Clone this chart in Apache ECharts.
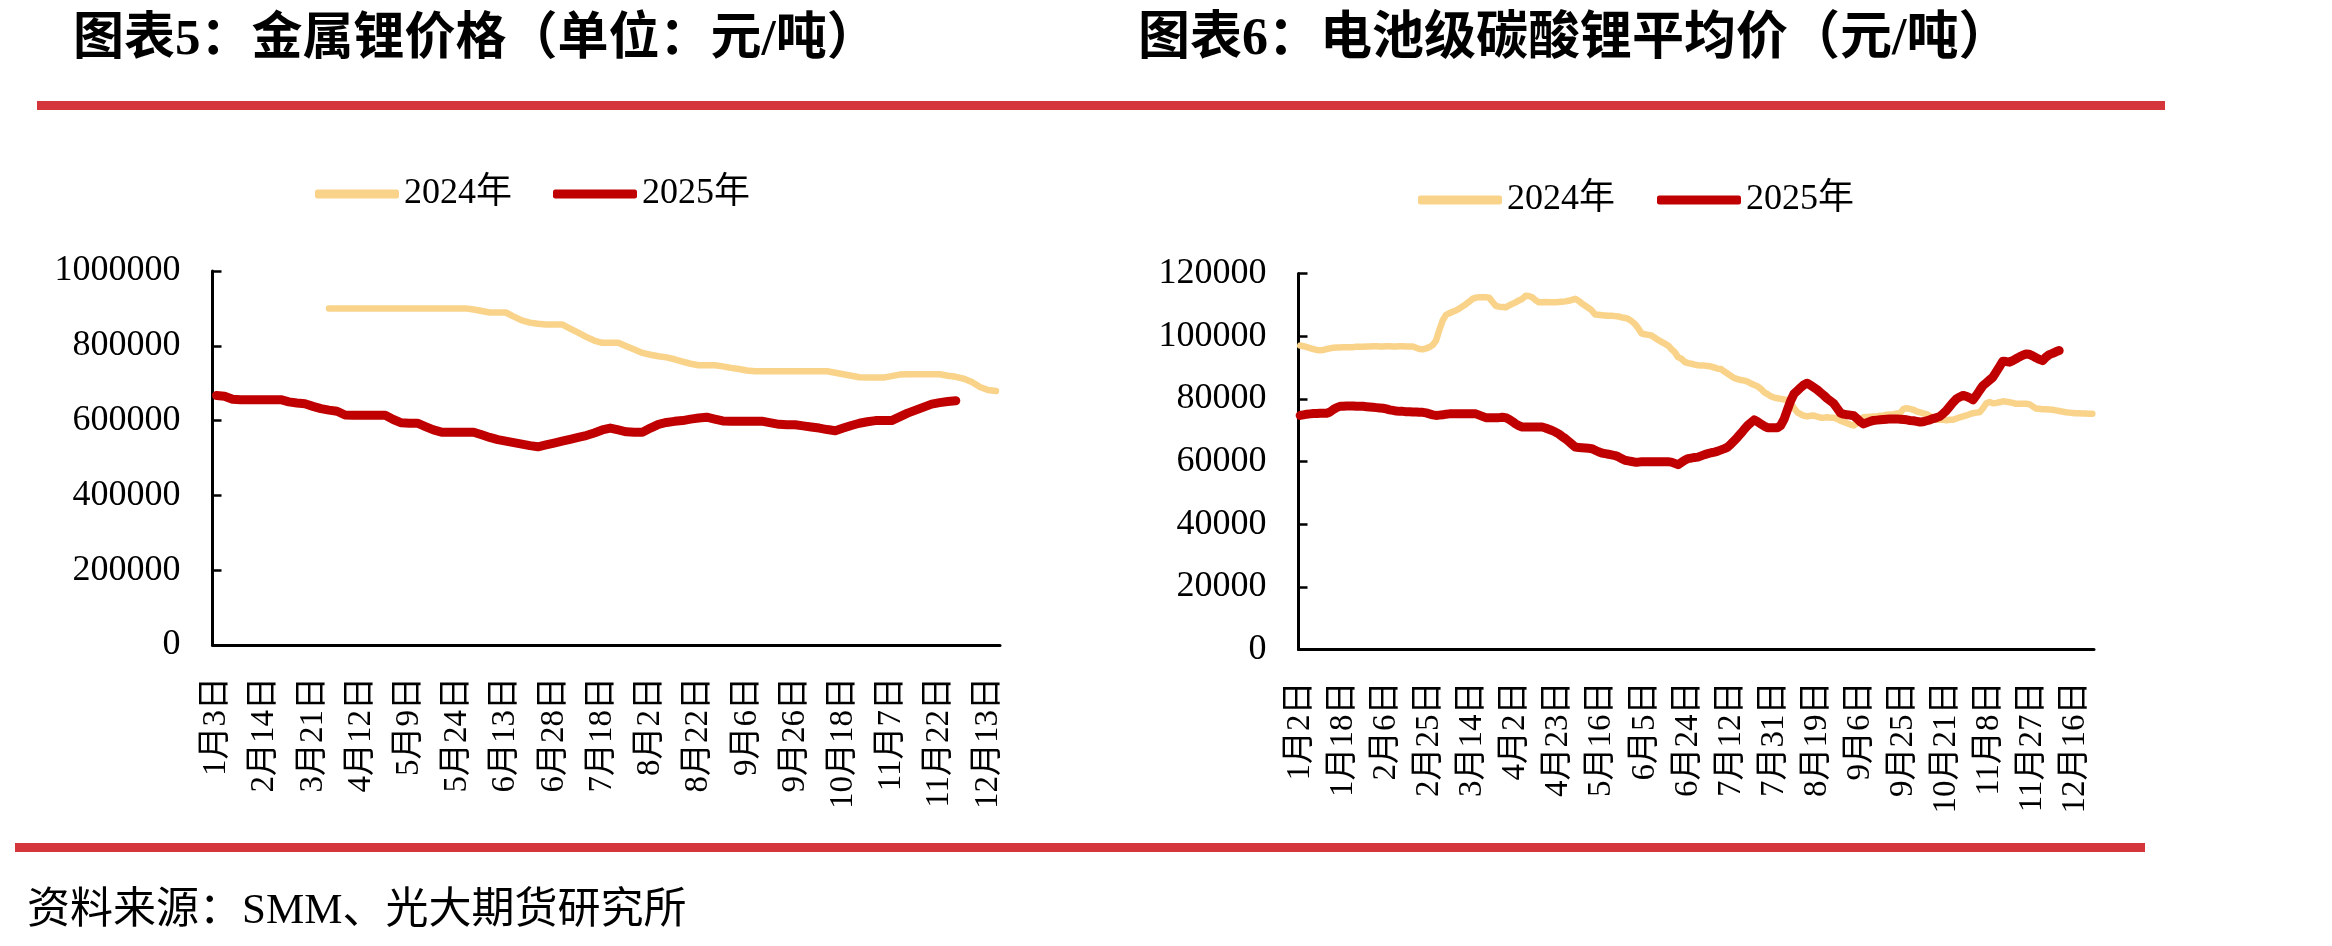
<!DOCTYPE html>
<html>
<head>
<meta charset="utf-8">
<script src="https://cdn.jsdelivr.net/npm/echarts@6/dist/echarts.min.js"></script>
<style>
  html, body { margin: 0; padding: 0; background: #fff; }
  #main { width: 2332px; height: 946px; }
</style>
</head>
<body>
<div id="main"></div>
<script>
// tick labels of the two x axes
const labelsLi = ['1月3日', '2月14日', '3月21日', '4月12日', '5月9日', '5月24日', '6月13日', '6月28日',
  '7月18日', '8月2日', '8月22日', '9月6日', '9月26日', '10月18日', '11月7日', '11月22日', '12月13日'];
const labelsCarb = ['1月2日', '1月18日', '2月6日', '2月25日', '3月14日', '4月2日', '4月23日', '5月16日',
  '6月5日', '6月24日', '7月12日', '7月31日', '8月19日', '9月6日', '9月25日', '10月21日', '11月8日',
  '11月27日', '12月16日'];

// 金属锂价格 (元/吨)
const li2024 = [
  null, null, null, null, null, null, null, null, null, null, null, null, null, null,
  900000, 900000, 900000, 900000, 900000, 900000, 900000, 900000, 900000, 900000,
  900000, 900000, 900000, 900000, 900000, 900000, 900000, 900000,
  897000, 893000, 889000, 889000, 889000, 878000, 868000, 862000, 859000, 857000,
  857000, 857000, 846000, 835000, 824000, 814000, 808000, 808000, 808000, 799000,
  790000, 781000, 776000, 772000, 769000, 764000, 758000, 752000, 748000, 748000,
  748000, 745000, 741000, 738000, 734000, 732000, 732000, 732000, 732000, 732000,
  732000, 732000, 732000, 732000, 732000, 728000, 724000, 720000, 716000, 715000,
  715000, 715000, 719000, 723000, 724000, 724000, 724000, 724000, 724000, 720000,
  717000, 712000, 703000, 690000, 682000, 679000
];
const li2025 = [
  667000, 665000, 657000, 656000, 656000, 656000, 656000, 656000, 656000, 650000,
  647000, 645000, 638000, 632000, 628000, 625000, 615000, 614000, 614000, 614000,
  614000, 614000, 603000, 594000, 593000, 593000, 584000, 575000, 569000, 569000,
  569000, 569000, 569000, 562000, 555000, 549000, 545000, 541000, 537000, 533000,
  530000, 535000, 540000, 545000, 550000, 555000, 560000, 567000, 575000, 580000,
  575000, 570000, 569000, 569000, 580000, 590000, 595000, 598000, 600000, 604000,
  607000, 609000, 604000, 599000, 598000, 598000, 598000, 598000, 598000, 594000,
  590000, 589000, 589000, 586000, 583000, 580000, 576000, 573000, 580000, 587000,
  593000, 597000, 600000, 600000, 600000, 610000, 620000, 628000, 636000, 644000,
  648000, 651000, 653000
];

// 电池级碳酸锂平均价 (元/吨)
const carb2024 = [
  97000, 96800, 96500, 96200, 95900, 95600, 95500, 95600, 95900, 96100,
  96300, 96400, 96400, 96500, 96500, 96500, 96500, 96600, 96600, 96600,
  96700, 96700, 96800, 96800, 96700, 96700, 96800, 96800, 96700, 96700,
  96800, 96800, 96700, 96700, 96700, 96300, 95900, 95800, 96100, 96500,
  97200, 98600, 102000, 105000, 106800, 107300, 107800, 108200, 108800, 109500,
  110200, 111000, 111900, 112300, 112400, 112400, 112400, 112300, 111000, 109700,
  109400, 109300, 109200, 109800, 110300, 110800, 111400, 111900, 112900, 112800,
  112400, 111500, 110800, 110800, 110900, 110800, 110800, 110800, 110900, 111000,
  111100, 111300, 111600, 111900, 111300, 110400, 109700, 109000, 108200, 106900,
  106800, 106700, 106600, 106500, 106500, 106400, 106300, 106000, 105800, 105500,
  104800, 103900, 102500, 100900, 100600, 100400, 100200, 99500, 98800, 98200,
  97600, 97000, 95900, 94900, 93300, 92800, 91800, 91400, 91200, 90900,
  90700, 90600, 90600, 90500, 90300, 90000, 89600, 89500, 88700, 88000,
  87300, 86600, 86300, 86000, 85800, 85500, 84900, 84400, 84000, 83200,
  82100, 81500, 80800, 80400, 80200, 80000, 79800, 79600, 78900, 77000,
  75700, 75100, 74600, 74400, 74600, 74700, 74300, 74000, 74000, 74100,
  74000, 74000, 73600, 73000, 72600, 72200, 71800, 71500, 72200, 73200,
  74100, 74200, 74300, 74400, 74400, 74600, 74700, 74900, 75000, 75100,
  75300, 75400, 76800, 77000, 76800, 76500, 76000, 75700, 75300, 75100,
  74500, 73900, 73300, 73300, 73300, 73200, 73300, 73300, 73700, 74100,
  74400, 74700, 75100, 75400, 75600, 75700, 77000, 78600, 79000, 78600,
  78700, 78900, 79200, 79100, 78900, 78700, 78400, 78400, 78400, 78400,
  78300, 77600, 76900, 76800, 76700, 76700, 76600, 76500, 76300, 76100,
  75900, 75700, 75600, 75500, 75400, 75400, 75300, 75300, 75200, 75200
];
const carb2025 = [
  74700, 74900, 75100, 75200, 75300, 75300, 75400, 75400, 75400, 75800,
  76600, 77200, 77600, 77600, 77700, 77700, 77700, 77600, 77600, 77600,
  77500, 77400, 77300, 77200, 77100, 77000, 76800, 76500, 76300, 76100,
  76000, 76000, 75900, 75900, 75800, 75800, 75700, 75700, 75500, 75200,
  74900, 74700, 74800, 74900, 75100, 75200, 75200, 75200, 75200, 75200,
  75200, 75200, 75200, 75200, 74800, 74400, 74000, 74000, 74000, 74000,
  74000, 74100, 74000, 73500, 72800, 72000, 71400, 71000, 71000, 71000,
  71000, 71000, 71000, 71000, 70700, 70300, 69900, 69400, 68800, 68000,
  67300, 66400, 65500, 64600, 64500, 64400, 64300, 64200, 64100, 63600,
  63100, 62700, 62500, 62300, 62100, 61900, 61500, 60900, 60400, 60200,
  60000, 59800, 59800, 59900, 59900, 59900, 59900, 59900, 59900, 59900,
  59900, 59900, 59800, 59400, 59000, 59700, 60400, 60900, 61100, 61300,
  61400, 61800, 62200, 62500, 62800, 63000, 63300, 63700, 64100, 64600,
  65600, 66700, 67800, 69000, 70300, 71500, 72400, 73300, 72700, 72000,
  71300, 70800, 70800, 70800, 70800, 71500, 73500, 76500, 79400, 81600,
  82600, 83600, 84500, 85000, 84300, 83600, 82900, 82000, 81100, 80100,
  79300, 78500, 77000, 75500, 75100, 74900, 74800, 74600, 73700, 72700,
  72000, 72400, 72800, 73100, 73200, 73300, 73400, 73500, 73600, 73600,
  73600, 73500, 73400, 73300, 73100, 73000, 72800, 72600, 72700, 73000,
  73300, 73700, 74000, 74400, 75300, 76300, 77600, 78900, 80000, 80600,
  81100, 80800, 80300, 79700, 81100, 82700, 84200, 85100, 86000, 86900,
  88600, 90300, 92000, 91900, 91700, 92200, 92800, 93400, 93900, 94300,
  94200, 93700, 93100, 92600, 92200, 93300, 94100, 94500, 95000, 95400
];

// category lists: a label every 6 (left) / 13 (right) points
const catLi = li2024.map((v, i) => (i % 6 === 0 ? labelsLi[i / 6] : ''));
const catCarb = carb2024.map((v, i) => (i % 13 === 0 ? labelsCarb[i / 13] : ''));

const serif = "'Liberation Serif', 'Noto Sans CJK SC', serif";
const c2024 = '#F9D38A';
const c2025 = '#C00000';
const barRed = '#D4363B';

const myChart = echarts.init(document.getElementById('main'));

function xAxisOf(gridIndex, data, labelGap, tickGap) {
  return {
    type: 'category',
    gridIndex: gridIndex,
    data: data,
    boundaryGap: true,
    axisLine: { lineStyle: { color: '#000', width: 3 } },
    axisTick: { inside: true, length: 9, interval: tickGap, lineStyle: { color: '#000', width: 2.5 } },
    axisLabel: {
      interval: labelGap,
      rotate: 90,
      margin: 32,
      color: '#000',
      fontSize: 33,
      fontFamily: serif,
    },
  };
}

function yAxisOf(gridIndex, max, interval) {
  return {
    type: 'value',
    gridIndex: gridIndex,
    min: 0,
    max: max,
    interval: interval,
    splitLine: { show: false },
    axisLine: { show: true, lineStyle: { color: '#000', width: 3 } },
    axisTick: { show: true, inside: true, length: 9, lineStyle: { color: '#000', width: 2.5 } },
    axisLabel: {
      margin: 32,
      color: '#000',
      fontSize: 36,
      fontFamily: serif,
      formatter: (v) => String(v),
    },
  };
}

function lineOf(name, xi, data, color, width) {
  return {
    name: name,
    type: 'line',
    xAxisIndex: xi,
    yAxisIndex: xi,
    data: data,
    showSymbol: false,
    symbol: 'none',
    connectNulls: false,
    color: color,
    lineStyle: { color: color, width: width, cap: 'round', join: 'round' },
    animation: false,
  };
}

const legendBase = {
  data: ['2024年', '2025年'],
  icon: 'roundRect',
  itemWidth: 84,
  itemHeight: 9,
  textStyle: { color: '#000', fontSize: 36, fontFamily: serif },
};

const option = {
  backgroundColor: '#fff',
  animation: false,
  title: [
    {
      text: '图表5：金属锂价格（单位：元/吨）',
      left: 68,
      top: 10,
      textStyle: { fontSize: 51, fontWeight: 'bold', color: '#000', fontFamily: serif },
    },
    {
      text: '图表6：电池级碳酸锂平均价（元/吨）',
      left: 1133,
      top: 10,
      textStyle: { fontSize: 52, fontWeight: 'bold', color: '#000', fontFamily: serif },
    },
    {
      text: '资料来源：SMM、光大期货研究所',
      left: 22,
      top: 885,
      textStyle: { fontSize: 43, fontWeight: 'normal', color: '#000', fontFamily: serif },
    },
  ],
  legend: [
    Object.assign({ left: 310, top: 171, itemGap: 41 }, legendBase),
    Object.assign({ left: 1413, top: 177, itemGap: 42 }, legendBase),
  ],
  grid: [
    { left: 212.5, top: 271, width: 787.5, height: 374 },
    { left: 1298.5, top: 273.5, width: 795.5, height: 376 },
  ],
  xAxis: [
    xAxisOf(0, catLi, 5, 0),
    xAxisOf(1, catCarb, 12, 7),
  ],
  yAxis: [
    yAxisOf(0, 1000000, 200000),
    yAxisOf(1, 120000, 20000),
  ],
  series: [
    lineOf('2024年', 0, li2024, c2024, 6.5),
    lineOf('2025年', 0, li2025, c2025, 9),
    lineOf('2024年', 1, carb2024, c2024, 6.5),
    lineOf('2025年', 1, carb2025, c2025, 9),
  ],
  graphic: [
    { type: 'rect', shape: { x: 37, y: 101, width: 2128, height: 9 }, style: { fill: barRed } },
    { type: 'rect', shape: { x: 15, y: 843, width: 2130, height: 9 }, style: { fill: barRed } },
  ],
};

myChart.setOption(option);
</script>
</body>
</html>
